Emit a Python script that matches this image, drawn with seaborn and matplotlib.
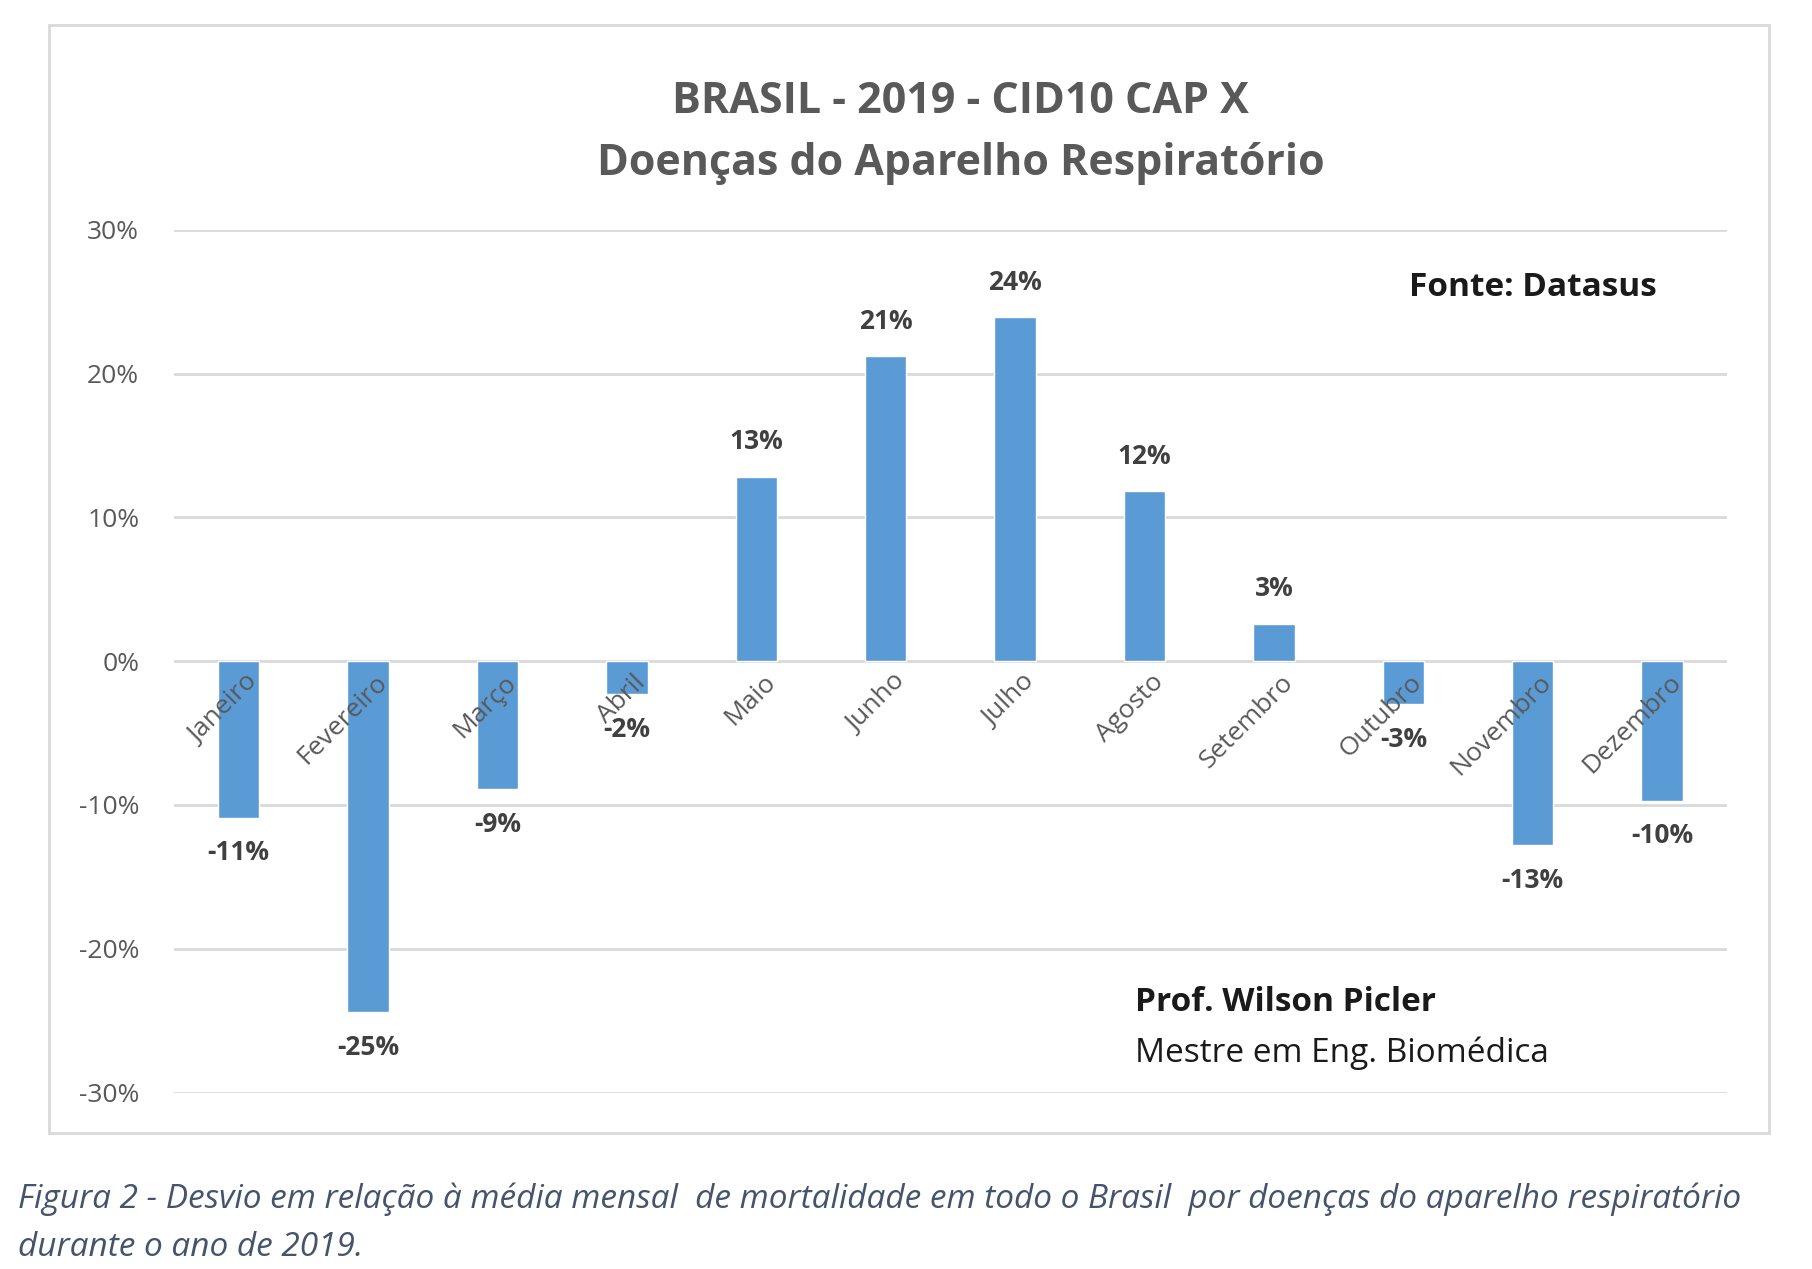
import matplotlib
matplotlib.use("Agg")
import matplotlib.pyplot as plt
import matplotlib.patches as mpatches
import seaborn as sns
import pandas as pd

meses = ["Janeiro", "Fevereiro", "Março", "Abril", "Maio", "Junho", "Julho",
         "Agosto", "Setembro", "Outubro", "Novembro", "Dezembro"]
desvio = [-10.9, -24.4, -8.9, -2.3, 12.8, 21.2, 23.9, 11.8, 2.6, -3.0, -12.8, -9.7]
rotulos = ["-11%", "-25%", "-9%", "-2%", "13%", "21%", "24%", "12%", "3%", "-3%", "-13%", "-10%"]

sns.set_theme(style="white")
plt.rcParams['font.family'] = ['Open Sans', 'DejaVu Sans']

df = pd.DataFrame({"mes": meses, "desvio": desvio})

fig = plt.figure(figsize=(18.12, 12.69), dpi=100)
# moldura do grafico
fig.patches.append(mpatches.Rectangle((0.027, 0.107), 0.949, 0.873, transform=fig.transFigure,
                                      fill=False, edgecolor="#d9d9d9", linewidth=2))
ax = fig.add_axes([0.096, 0.139, 0.857, 0.68])
sns.barplot(data=df, x="mes", y="desvio", color="#5B9BD5", width=0.32, saturation=1, ax=ax)
ax.set_ylim(-30, 30)
ax.set_yticks(range(-30, 31, 10))
ax.set_yticklabels([f"{v}%" for v in range(-30, 31, 10)], color="#595959", fontsize=19)
ax.tick_params(axis="y", length=0, pad=25)
ax.yaxis.grid(True, color="#d9d9d9", linewidth=2)
ax.set_axisbelow(True)
for s in ax.spines.values():
    s.set_visible(False)
ax.set_xticks([])
ax.set_xlabel("")
ax.set_ylabel("")
ax.set_xlim(-0.5, 11.5)

for i, (m, v, r) in enumerate(zip(meses, desvio, rotulos)):
    ax.text(i + 0.05, -0.6, m, rotation=45, ha="right", va="top", fontsize=19,
            color="#595959", rotation_mode="anchor")
    if v >= 0:
        ax.text(i, v + 1.5, r, ha="center", va="bottom", fontsize=19, fontweight="bold", color="#404040")
    else:
        ax.text(i, v - 1.5, r, ha="center", va="top", fontsize=19, fontweight="bold", color="#404040")

fig.text(0.53, 0.92, "BRASIL - 2019 - CID10 CAP X", ha="center", va="center",
         fontsize=31, fontweight="bold", color="#595959")
fig.text(0.53, 0.871, "Doenças do Aparelho Respiratório", ha="center", va="center",
         fontsize=31, fontweight="bold", color="#595959")
ax.text(0.955, 0.933, "Fonte: Datasus", transform=ax.transAxes, ha="right", va="center",
        fontsize=24, fontweight="bold", color="#1a1a1a")
ax.text(0.619, 0.105, "Prof. Wilson Picler", transform=ax.transAxes, ha="left", va="center",
        fontsize=24, fontweight="bold", color="#1a1a1a")
ax.text(0.619, 0.046, "Mestre em Eng. Biomédica", transform=ax.transAxes, ha="left", va="center",
        fontsize=24, color="#1a1a1a")

fig.text(0.01, 0.055, "Figura 2 - Desvio em relação à média mensal  de mortalidade em todo o Brasil  por doenças do aparelho respiratório",
         ha="left", va="center", fontsize=24, style="italic", color="#44546A")
fig.text(0.01, 0.017, "durante o ano de 2019.", ha="left", va="center",
         fontsize=24, style="italic", color="#44546A")

fig.savefig("out.png", dpi=100, facecolor="white")
